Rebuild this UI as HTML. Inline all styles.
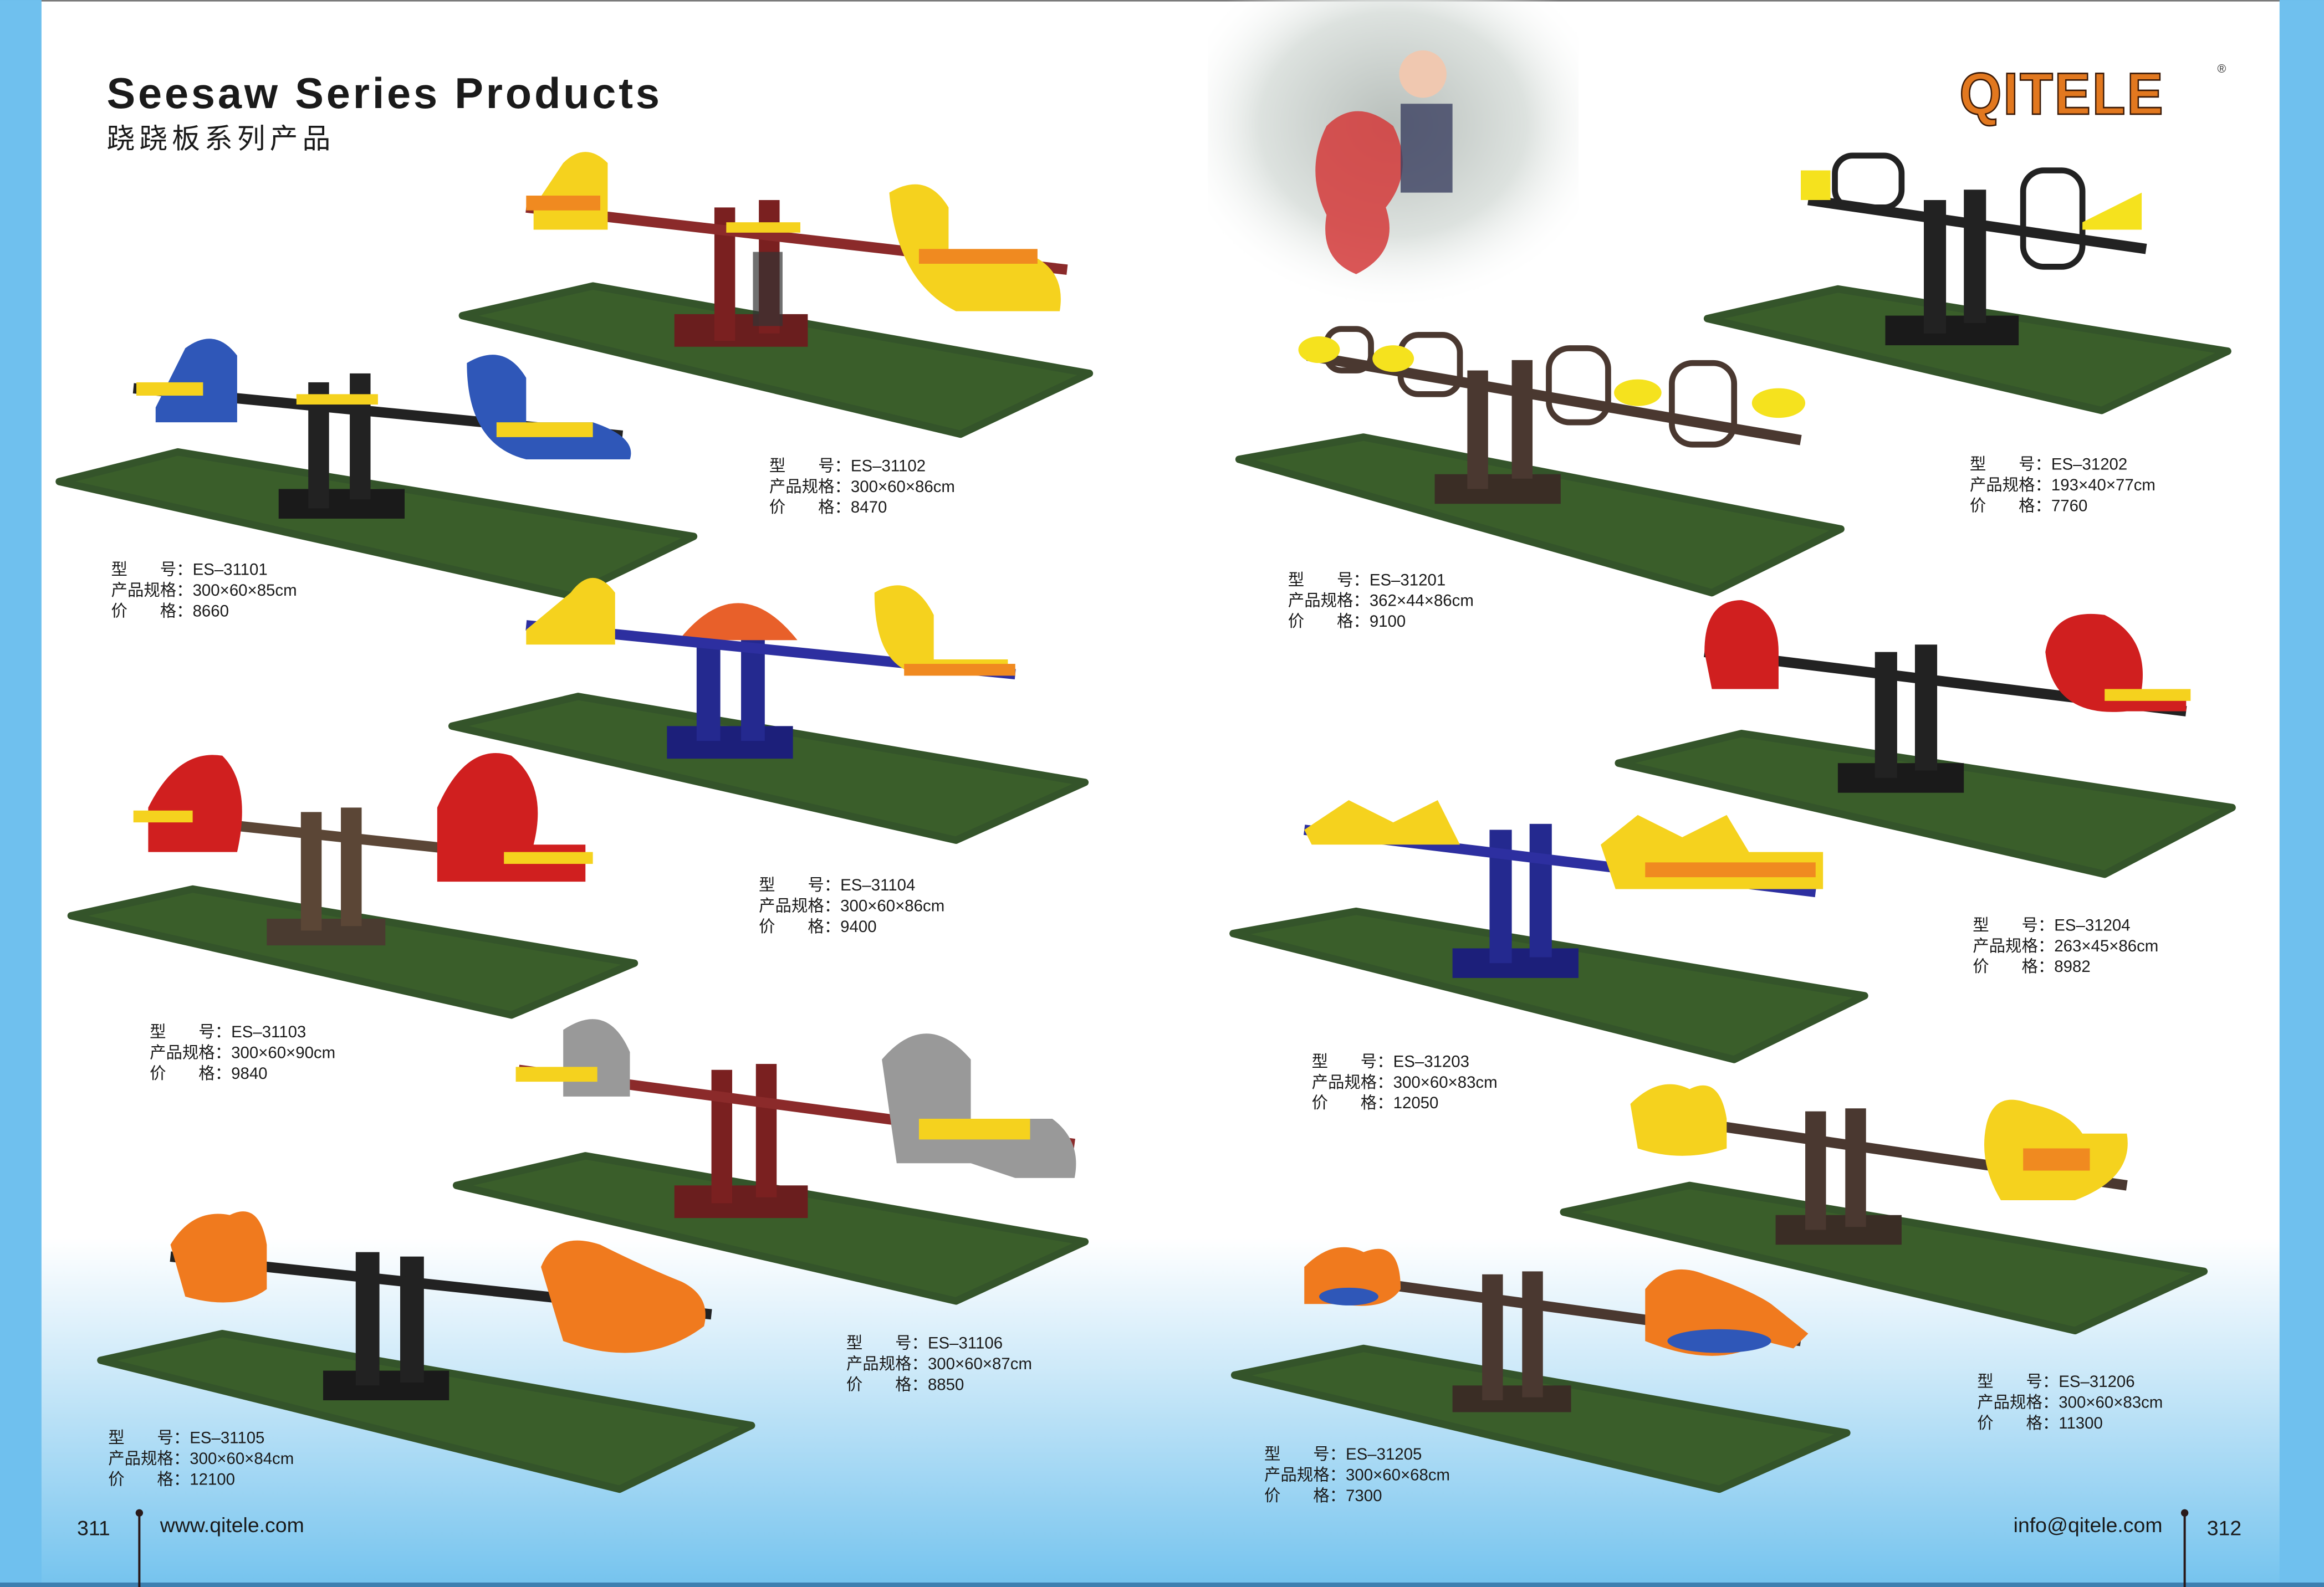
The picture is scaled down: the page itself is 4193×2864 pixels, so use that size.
<!DOCTYPE html>
<html><head><meta charset="utf-8">
<style>
html,body{margin:0;padding:0;background:#fff;}
body{width:4193px;height:2864px;overflow:hidden;}
svg{display:block;}
text{font-family:"Liberation Sans","Noto Sans CJK SC",sans-serif;}
.lbl{font-size:11px;fill:#1a1a1a;}
.g{fill:#3a5e2a;stroke:#34542a;stroke-linejoin:round;stroke-width:5;}
</style></head><body>
<svg width="4193" height="2864" viewBox="0 0 1568 1071" xmlns="http://www.w3.org/2000/svg">
<defs>
<linearGradient id="bg" x1="0" y1="0" x2="0" y2="1">
<stop offset="0" stop-color="#ffffff"/>
<stop offset="0.78" stop-color="#ffffff"/>
<stop offset="0.86" stop-color="#cfeaf9"/>
<stop offset="1" stop-color="#74c3ee"/>
</linearGradient>
<radialGradient id="photo" cx="0.5" cy="0.4" r="0.6">
<stop offset="0" stop-color="#b8bfbb"/>
<stop offset="0.6" stop-color="#dde2df"/>
<stop offset="1" stop-color="#ffffff" stop-opacity="0"/>
</radialGradient>
</defs>
<rect x="0" y="0" width="1568" height="1071" fill="url(#bg)"/>
<rect x="0" y="0" width="1568" height="1" fill="#777"/>
<rect x="0" y="0" width="28" height="1071" fill="#6fc0ee"/>
<rect x="1538" y="0" width="30" height="1071" fill="#6fc0ee"/>
<rect x="0" y="1068" width="1568" height="3" fill="#3d7fb0"/>

<!-- photo -->
<rect x="815" y="0" width="250" height="210" fill="url(#photo)"/>
<path d="M895,85 q20,-20 45,0 q15,30 -5,55 q10,30 -20,45 q-25,-10 -20,-40 q-15,-30 0,-60z" fill="#d43a3a" opacity="0.85"/>
<circle cx="960" cy="50" r="16" fill="#f0c8b0"/>
<path d="M945,70 h35 v60 h-35z" fill="#3b4060" opacity="0.8"/>

<text x="72" y="73" font-size="29" font-weight="bold" fill="#1a1a1a" letter-spacing="1.8">Seesaw Series Products</text>
<text x="72" y="100" font-size="19" fill="#1a1a1a" letter-spacing="3">跷跷板系列产品</text>

<text x="1322" y="77" font-size="40" font-weight="bold" fill="#e2781f" stroke="#3a1a08" stroke-width="1" letter-spacing="1" transform="translate(1322,0) scale(0.92,1) translate(-1322,0)">QITELE</text>
<text x="1496" y="49" font-size="8" fill="#333">®</text>

<g>
<polygon class="g" points="312,213 400,193 735,252 648,293"/>
<rect x="455" y="212" width="90" height="22" fill="#6a1e1e"/>
<rect x="482" y="140" width="14" height="90" fill="#7a2020"/><rect x="512" y="135" width="14" height="90" fill="#7a2020"/>
<rect x="508" y="170" width="20" height="50" fill="#333" opacity="0.7"/>
<line x1="355" y1="140" x2="720" y2="182" stroke="#8b2a2a" stroke-width="7"/>
<rect x="490" y="150" width="50" height="7" fill="#f5d21e"/>
<path d="M380,110 q15,-15 30,0 v45 h-50 v-15z" fill="#f5d21e"/><rect x="355" y="132" width="50" height="10" fill="#f08a20"/>
<path d="M600,130 q25,-15 40,10 v30 h50 q30,10 25,40 h-70 q-40,-20 -45,-80z" fill="#f5d21e"/><rect x="620" y="168" width="80" height="10" fill="#f08a20"/>
</g>
<g>
<polygon class="g" points="40,325 120,305 468,362 385,402"/>
<rect x="188" y="330" width="85" height="20" fill="#1a1a1a"/>
<rect x="208" y="258" width="14" height="85" fill="#222"/><rect x="236" y="252" width="14" height="85" fill="#222"/>
<line x1="90" y1="262" x2="420" y2="294" stroke="#222" stroke-width="7"/>
<rect x="200" y="266" width="55" height="7" fill="#f5d21e"/>
<path d="M125,235 q20,-15 35,5 v45 h-55 v-10z" fill="#2f57b8"/><rect x="92" y="258" width="45" height="9" fill="#f5d21e"/>
<path d="M315,245 q25,-15 40,10 v30 h45 q30,10 25,25 h-70 q-40,-10 -40,-65z" fill="#2f57b8"/><rect x="335" y="285" width="65" height="10" fill="#f5d21e"/>
</g>
<g>
<polygon class="g" points="305,490 390,470 732,528 645,567"/>
<rect x="450" y="490" width="85" height="22" fill="#1c1f7a"/>
<rect x="470" y="420" width="16" height="80" fill="#24298f"/><rect x="500" y="430" width="16" height="70" fill="#24298f"/>
<path d="M458,432 q40,-50 80,0z" fill="#e8602a"/>
<line x1="355" y1="422" x2="685" y2="455" stroke="#2d2fa0" stroke-width="7"/>
<path d="M385,400 q15,-20 30,0 v35 h-60 v-10z" fill="#f5d21e"/>
<path d="M590,400 q25,-15 40,15 v30 h50 v10 h-60 q-30,-5 -30,-55z" fill="#f5d21e"/><rect x="610" y="448" width="75" height="8" fill="#f08a20"/>
</g>
<g>
<polygon class="g" points="48,618 130,600 428,650 345,685"/>
<rect x="180" y="620" width="80" height="18" fill="#4a3b30"/>
<rect x="203" y="548" width="14" height="80" fill="#5b4636"/><rect x="230" y="545" width="14" height="80" fill="#5b4636"/>
<line x1="110" y1="552" x2="390" y2="582" stroke="#5b4636" stroke-width="7"/>
<path d="M100,545 q20,-40 50,-35 q20,20 10,65 h-60z" fill="#d01f1f"/><rect x="90" y="547" width="40" height="8" fill="#f5d21e"/>
<path d="M295,545 q20,-45 50,-35 q25,20 15,60 h35 v25 h-100z" fill="#d01f1f"/><rect x="340" y="575" width="60" height="8" fill="#f5d21e"/>
</g>
<g>
<polygon class="g" points="308,800 395,780 732,838 645,878"/>
<rect x="455" y="800" width="90" height="22" fill="#6a1e1e"/>
<rect x="480" y="722" width="14" height="90" fill="#7a2020"/><rect x="510" y="718" width="14" height="90" fill="#7a2020"/>
<line x1="350" y1="722" x2="725" y2="772" stroke="#8b2a2a" stroke-width="7"/>
<path d="M380,695 q30,-20 45,15 v30 h-45z" fill="#999"/><rect x="348" y="720" width="55" height="10" fill="#f5d21e"/>
<path d="M595,715 q30,-35 60,0 v40 h55 q20,15 15,40 h-40 l-30,-10 h-50z" fill="#999"/><rect x="620" y="755" width="75" height="14" fill="#f5d21e"/>
</g>
<g>
<polygon class="g" points="68,918 150,900 507,962 418,1005"/>
<rect x="218" y="925" width="85" height="20" fill="#1a1a1a"/>
<rect x="240" y="845" width="16" height="90" fill="#222"/><rect x="270" y="848" width="16" height="85" fill="#222"/>
<line x1="115" y1="848" x2="480" y2="887" stroke="#222" stroke-width="7"/>
<path d="M115,840 q15,-25 40,-20 q20,-10 25,20 v30 q-20,15 -55,5z" fill="#f07a1e"/>
<path d="M365,855 q10,-25 40,-15 q30,15 55,25 q20,10 15,30 q-40,30 -95,10z" fill="#f07a1e"/>
</g>
<g>
<polygon class="g" points="1152,215 1240,195 1503,237 1418,277"/>
<rect x="1272" y="213" width="90" height="20" fill="#1a1a1a"/>
<rect x="1298" y="135" width="15" height="90" fill="#222"/><rect x="1325" y="128" width="15" height="90" fill="#222"/>
<line x1="1220" y1="135" x2="1448" y2="168" stroke="#222" stroke-width="7"/>
<rect x="1238" y="105" width="45" height="35" rx="12" fill="none" stroke="#222" stroke-width="4"/>
<rect x="1365" y="115" width="40" height="65" rx="14" fill="none" stroke="#222" stroke-width="4"/>
<path d="M1215,115 h20 v20 h-20z" fill="#f5e21e"/><path d="M1405,150 l40,-20 v25 h-40z" fill="#f5e21e"/>
</g>
<g>
<polygon class="g" points="836,310 920,295 1242,357 1155,400"/>
<rect x="968" y="320" width="85" height="20" fill="#3a2d25"/>
<rect x="990" y="250" width="14" height="80" fill="#4a3830"/><rect x="1020" y="243" width="14" height="80" fill="#4a3830"/>
<line x1="882" y1="240" x2="1215" y2="297" stroke="#4a3830" stroke-width="7"/>
<rect x="895" y="222" width="30" height="28" rx="10" fill="none" stroke="#4a3830" stroke-width="4"/>
<rect x="945" y="226" width="40" height="40" rx="12" fill="none" stroke="#4a3830" stroke-width="4"/>
<rect x="1045" y="235" width="40" height="50" rx="14" fill="none" stroke="#4a3830" stroke-width="4"/>
<rect x="1128" y="245" width="42" height="55" rx="14" fill="none" stroke="#4a3830" stroke-width="4"/>
<ellipse cx="890" cy="236" rx="14" ry="9" fill="#f5e21e"/><ellipse cx="940" cy="242" rx="14" ry="9" fill="#f5e21e"/>
<ellipse cx="1105" cy="265" rx="16" ry="9" fill="#f5e21e"/><ellipse cx="1200" cy="272" rx="18" ry="10" fill="#f5e21e"/>
</g>
<g>
<polygon class="g" points="1092,515 1175,495 1506,545 1420,590"/>
<rect x="1240" y="515" width="85" height="20" fill="#1a1a1a"/>
<rect x="1265" y="440" width="15" height="85" fill="#222"/><rect x="1292" y="435" width="15" height="85" fill="#222"/>
<line x1="1150" y1="440" x2="1475" y2="480" stroke="#222" stroke-width="7"/>
<path d="M1150,440 q0,-35 25,-35 q25,5 25,35 v25 h-45z" fill="#d01f1f"/>
<path d="M1380,440 q5,-30 40,-25 q30,15 25,50 h30 v15 h-40 q-50,5 -55,-40z" fill="#d01f1f"/>
<rect x="1420" y="465" width="58" height="8" fill="#f5d21e"/>
</g>
<g>
<polygon class="g" points="832,630 915,615 1258,672 1170,715"/>
<rect x="980" y="640" width="85" height="20" fill="#1c1f7a"/>
<rect x="1005" y="560" width="15" height="90" fill="#24298f"/><rect x="1032" y="556" width="15" height="90" fill="#24298f"/>
<line x1="880" y1="560" x2="1225" y2="602" stroke="#2d2fa0" stroke-width="7"/>
<path d="M880,560 l30,-20 l30,15 l30,-15 l15,30 h-100z" fill="#f5d21e"/>
<path d="M1080,570 l25,-20 l30,15 l30,-15 l15,25 h50 v25 h-140z" fill="#f5d21e"/>
<rect x="1110" y="582" width="115" height="10" fill="#f08a20"/>
</g>
<g>
<polygon class="g" points="1055,818 1140,800 1487,858 1400,898"/>
<rect x="1198" y="820" width="85" height="20" fill="#3a2d25"/>
<rect x="1218" y="750" width="14" height="80" fill="#4a3830"/><rect x="1245" y="748" width="14" height="80" fill="#4a3830"/>
<line x1="1105" y1="752" x2="1435" y2="800" stroke="#4a3830" stroke-width="7"/>
<path d="M1100,745 q20,-20 40,-10 q20,-10 25,20 v20 q-30,10 -60,0z" fill="#f5d21e"/>
<path d="M1340,760 q5,-25 30,-15 q25,5 35,20 h30 q5,30 -35,45 h-50 q-15,-25 -10,-50z" fill="#f5d21e"/>
<rect x="1365" y="775" width="45" height="15" fill="#f08a20"/>
</g>
<g>
<polygon class="g" points="833,928 920,910 1246,967 1160,1005"/>
<rect x="980" y="935" width="80" height="18" fill="#3a2d25"/>
<rect x="1000" y="860" width="14" height="85" fill="#4a3830"/><rect x="1027" y="858" width="14" height="85" fill="#4a3830"/>
<line x1="900" y1="862" x2="1215" y2="905" stroke="#4a3830" stroke-width="7"/>
<path d="M880,855 q20,-20 40,-10 q25,-10 25,25 q-10,15 -40,10 h-25z" fill="#f07a1e"/>
<ellipse cx="910" cy="875" rx="20" ry="6" fill="#2f57b8"/>
<path d="M1110,870 q15,-20 40,-10 q30,10 45,20 l25,20 l-10,10 l-20,-5 q-30,20 -80,0z" fill="#f07a1e"/>
<ellipse cx="1160" cy="905" rx="35" ry="8" fill="#2f57b8"/>
</g>

<g class="lbl">
<text x="75" y="388">型　　号：ES–31101</text><text x="75" y="402">产品规格：300×60×85cm</text><text x="75" y="416">价　　格：8660</text>
<text x="519" y="318">型　　号：ES–31102</text><text x="519" y="332">产品规格：300×60×86cm</text><text x="519" y="346">价　　格：8470</text>
<text x="512" y="601">型　　号：ES–31104</text><text x="512" y="615">产品规格：300×60×86cm</text><text x="512" y="629">价　　格：9400</text>
<text x="101" y="700">型　　号：ES–31103</text><text x="101" y="714">产品规格：300×60×90cm</text><text x="101" y="728">价　　格：9840</text>
<text x="571" y="910">型　　号：ES–31106</text><text x="571" y="924">产品规格：300×60×87cm</text><text x="571" y="938">价　　格：8850</text>
<text x="73" y="974">型　　号：ES–31105</text><text x="73" y="988">产品规格：300×60×84cm</text><text x="73" y="1002">价　　格：12100</text>
<text x="1329" y="317">型　　号：ES–31202</text><text x="1329" y="331">产品规格：193×40×77cm</text><text x="1329" y="345">价　　格：7760</text>
<text x="869" y="395">型　　号：ES–31201</text><text x="869" y="409">产品规格：362×44×86cm</text><text x="869" y="423">价　　格：9100</text>
<text x="1331" y="628">型　　号：ES–31204</text><text x="1331" y="642">产品规格：263×45×86cm</text><text x="1331" y="656">价　　格：8982</text>
<text x="885" y="720">型　　号：ES–31203</text><text x="885" y="734">产品规格：300×60×83cm</text><text x="885" y="748">价　　格：12050</text>
<text x="1334" y="936">型　　号：ES–31206</text><text x="1334" y="950">产品规格：300×60×83cm</text><text x="1334" y="964">价　　格：11300</text>
<text x="853" y="985">型　　号：ES–31205</text><text x="853" y="999">产品规格：300×60×68cm</text><text x="853" y="1013">价　　格：7300</text>
</g>

<text x="52" y="1036" font-size="14" fill="#1a1a1a">311</text>
<line x1="94" y1="1022" x2="94" y2="1071" stroke="#2a1a1a" stroke-width="1.5"/><circle cx="94" cy="1021" r="2.5" fill="#2a1a1a"/>
<text x="108" y="1034" font-size="14" fill="#1a1a1a">www.qitele.com</text>
<text x="1459" y="1034" font-size="14" fill="#1a1a1a" text-anchor="end">info@qitele.com</text>
<line x1="1474" y1="1022" x2="1474" y2="1071" stroke="#2a1a1a" stroke-width="1.5"/><circle cx="1474" cy="1021" r="2.5" fill="#2a1a1a"/>
<text x="1489" y="1036" font-size="14" fill="#1a1a1a">312</text>
</svg>
</body></html>
